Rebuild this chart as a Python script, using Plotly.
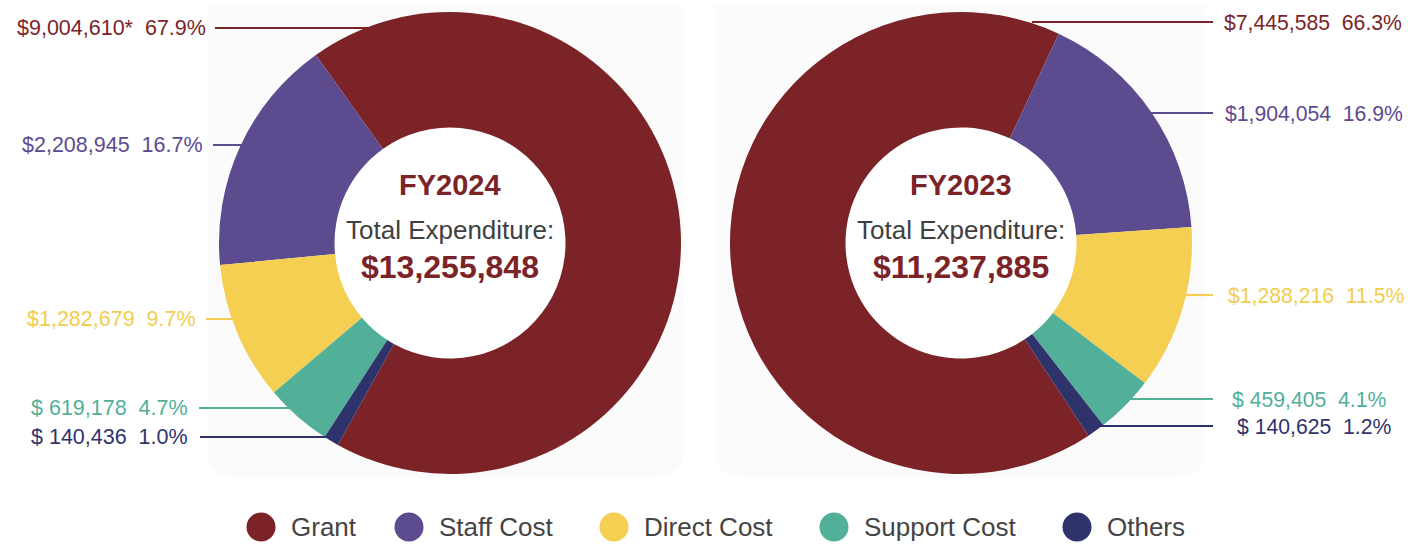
import plotly.graph_objects as go

# ---------------- data ----------------
categories = ["Grant", "Staff Cost", "Direct Cost", "Support Cost", "Others"]
colors = ["#7b2327", "#5c4b8f", "#f5cf52", "#52af98", "#2f336c"]

fy2024_values = [9004610, 2208945, 1282679, 619178, 140436]
fy2024_amount_text = ["$9,004,610*", "$2,208,945", "$1,282,679", "$ 619,178", "$ 140,436"]
fy2024_pct_text = ["67.9%", "16.7%", "9.7%", "4.7%", "1.0%"]

fy2023_values = [7445585, 1904054, 1288216, 459405, 140625]
fy2023_amount_text = ["$7,445,585", "$1,904,054", "$1,288,216", "$ 459,405", "$ 140,625"]
fy2023_pct_text = ["66.3%", "16.9%", "11.5%", "4.1%", "1.2%"]

years = ["FY2024", "FY2023"]

# ---------------- layout constants (pixels) ----------------
W, H = 1408, 544
FONT = "Liberation Sans, Arial, sans-serif"
R_OUT = 231
HOLE = 0.5
centers = [(450, 243), (961, 243)]
rotations = [-35.5, 146.5]
directions = ["counterclockwise", "clockwise"]

# leader lines: (y, x_start, x_end)
left_lines = [(28, 215, 380), (145, 213, 246), (319, 206, 266), (408, 199, 306), (437, 200, 334)]
right_lines = [(22, 1032, 1213), (113, 1126, 1213), (295, 1186, 1213), (399, 1130, 1213), (426, 1100, 1213)]
left_text_x = [208, 205, 198, 190, 190]
right_text_x = [1222, 1223, 1226, 1230, 1235]

legend_x = [261, 409, 614, 834, 1077]
legend_y = 527


def px(x):
    return x / W


def py(y):
    return 1 - y / H


fig = go.Figure()

# pies
for vals, (cx, cy), rot, dirn in zip([fy2024_values, fy2023_values], centers, rotations, directions):
    fig.add_trace(go.Pie(
        labels=categories,
        values=vals,
        hole=HOLE,
        sort=False,
        direction=dirn,
        rotation=rot,
        marker=dict(colors=colors, line=dict(width=0)),
        textinfo="none",
        hoverinfo="label+value+percent",
        showlegend=False,
        domain=dict(x=[px(cx - R_OUT), px(cx + R_OUT)], y=[py(cy + R_OUT), py(cy - R_OUT)]),
    ))

# legend made of scatter markers on a hidden pixel axis
for cat, col, lx in zip(categories, colors, legend_x):
    fig.add_trace(go.Scatter(
        x=[lx], y=[legend_y], mode="markers",
        marker=dict(size=29, color=col),
        hoverinfo="skip", showlegend=False,
    ))

shapes = []
annotations = []

# faint background panels
for (x0, x1) in [(207, 683), (715, 1205)]:
    shapes.append(dict(
        type="path", xref="x", yref="y", layer="below",
        path=f"M {x0},5 L {x1},5 L {x1},455 Q {x1},478 {x1-35},478 L {x0+35},478 Q {x0},478 {x0},455 Z",
        fillcolor="#fbfbfb", line=dict(width=0),
    ))
# white hole fill
for cx, cy in centers:
    r = R_OUT * HOLE
    shapes.append(dict(type="circle", xref="x", yref="y", layer="below",
                       x0=cx - r, x1=cx + r, y0=cy - r, y1=cy + r,
                       fillcolor="white", line=dict(width=0)))

label_colors = [colors[0], colors[1], "#f3cd4e", colors[3], colors[4]]

# leader lines + labels
for k in range(len(categories)):
    y, xs, xe = left_lines[k]
    shapes.append(dict(type="line", xref="x", yref="y", layer="above",
                       x0=xs, x1=xe, y0=y, y1=y, line=dict(color=colors[k], width=2.2)))
    annotations.append(dict(
        x=left_text_x[k], y=y, xref="x", yref="y", xanchor="right", yanchor="middle",
        text=f"{fy2024_amount_text[k]}&nbsp;&nbsp;{fy2024_pct_text[k]}",
        showarrow=False, font=dict(family=FONT, size=21.5, color=label_colors[k]),
    ))
    y, xs, xe = right_lines[k]
    shapes.append(dict(type="line", xref="x", yref="y", layer="above",
                       x0=xs, x1=xe, y0=y, y1=y, line=dict(color=colors[k], width=2.2)))
    annotations.append(dict(
        x=right_text_x[k], y=y, xref="x", yref="y", xanchor="left", yanchor="middle",
        text=f"{fy2023_amount_text[k]}&nbsp;&nbsp;{fy2023_pct_text[k]}",
        showarrow=False, font=dict(family=FONT, size=21.2, color=label_colors[k]),
    ))

# centre texts
for yr, vals, (cx, cy) in zip(years, [fy2024_values, fy2023_values], centers):
    total = sum(vals)
    annotations.append(dict(x=cx, y=185, xref="x", yref="y", xanchor="center", yanchor="middle",
                            text=f"<b>{yr}</b>", showarrow=False,
                            font=dict(family=FONT, size=29, color="#7b2327")))
    annotations.append(dict(x=cx, y=230, xref="x", yref="y", xanchor="center", yanchor="middle",
                            text="Total Expenditure:", showarrow=False,
                            font=dict(family=FONT, size=26, color="#404040")))
    annotations.append(dict(x=cx, y=267, xref="x", yref="y", xanchor="center", yanchor="middle",
                            text=f"<b>${total:,}</b>", showarrow=False,
                            font=dict(family=FONT, size=32, color="#7b2327")))

# legend labels
for cat, lx in zip(categories, legend_x):
    annotations.append(dict(x=lx + 28, y=legend_y, xref="x", yref="y", xanchor="left", yanchor="middle",
                            text=cat, showarrow=False,
                            font=dict(family=FONT, size=26, color="#444444")))

fig.update_layout(
    width=W, height=H,
    margin=dict(l=0, r=0, t=0, b=0),
    paper_bgcolor="white", plot_bgcolor="rgba(0,0,0,0)",
    showlegend=False,
    xaxis=dict(range=[0, W], domain=[0, 1], visible=False, fixedrange=True),
    yaxis=dict(range=[H, 0], domain=[0, 1], visible=False, fixedrange=True),
    shapes=shapes, annotations=annotations,
    font=dict(family=FONT),
)

fig.write_html(
    "out.html",
    config={"displayModeBar": False},
    post_script="document.body.style.margin='0';document.body.style.overflow='hidden';",
)
